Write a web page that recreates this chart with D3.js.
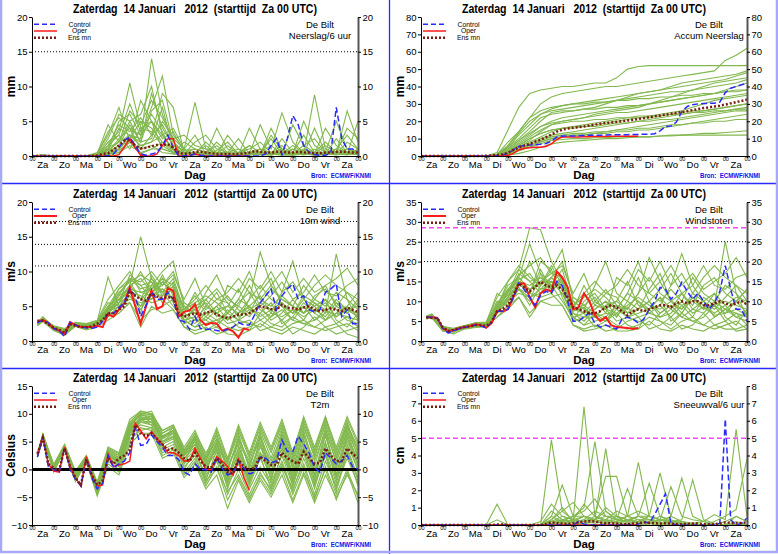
<!DOCTYPE html>
<html>
<head>
<meta charset="utf-8">
<script src="https://cdn.jsdelivr.net/npm/d3@7"></script>
<style>
  body { margin: 0; background: #fff; }
  svg { display: block; }
  text { font-family: "Liberation Sans", Arial, sans-serif; }
</style>
</head>
<body>
<svg id="chart" width="778" height="554"></svg>
<script>
// ---- algemene labels ----
const dayLabels = ["Za","Zo","Ma","Di","Wo","Do","Vr","Za","Zo","Ma","Di","Wo","Do","Vr","Za"]
const titleText = "Zaterdag  14 Januari   2012  (starttijd  Za 00 UTC)"

// ---- Neerslag / 6 uur (mm), 6-uurlijks vanaf 0h ----
const neerslagControl = [0,0,0,0,0,0,0,0,0,0,0,0,0, 0,0,0.3,1.2,2.3,2.7,1.5,0.3,0.1,0.3,0.5,1.5,3.0,1.2,0,0,0.1,0.3,0.1,0, 0,0,0,0,0,0,0,0,0,0, 0.3,1.5,2.5,0.2,2.5,5.8,4.5,1.5,0.5,0.2,0.1,0.1,0.5,7.0,2.5,1.0,1.0,0.5]
const neerslagOper = [0,0,0,0,0,0,0,0,0,0,0,0,0,0,0,0, 0.2,1.3,2.5,1.2,0.1,0,0,0.3,1.5,2.5,2.5,0,0,0,0.3,0.1, 0,0,0,0,0,0,0,0,0]
const neerslagMean = [0,0,0,0,0,0,0,0,0,0,0,0, 0.05,0.3,0.4,0.9,1.5,2.2,2.3,1.5,1.1,1.2,1.4,1.6,1.6,1.7,1.2,0.5,0.3,0.4,0.6,0.6,0.5,0.4,0.3,0.3,0.3,0.3,0.3,0.4,0.5,0.7,0.6,0.5,0.5,0.6,0.6,0.5,0.5,0.6,0.5,0.5,0.4,0.4,0.5,0.5,0.6,0.6,0.6,0.5,0.5]
// leden, 12-uurlijks vanaf 0h
const neerslagMembers = [
  [0,0,0,0,0,0,0.1,2.0,3.5,10.5,4.0,5.0,3.0,1.0,0.3,0.5,0.2,0.5,0.3,0.2,0.5,1.0,0.3,0.5,0.2,0.8,0.5,0.3,0.2,1.0,0.5],
  [0,0,0,0,0,0,0.3,4.5,2.0,3.0,2.5,14.0,6.0,2.0,0.5,1.0,0.5,0.3,0.1,0.5,0.3,0.2,0.5,1.5,0.3,0.2,0.5,0.3,0.2,0.5,0.3],
  [0,0,0,0,0,0,0,1.0,5.0,6.0,3.0,7.0,11.5,3.0,1.0,7.7,1.0,0.5,0.2,0.3,0.5,0.3,0.5,0.2,1.0,0.5,0.3,0.5,1.0,0.5,0.2],
  [0,0,0,0,0,0,0,0.5,2.5,4.0,1.0,3.0,9.0,7.0,0.5,0.3,0.3,4.0,1.0,0.5,1.5,0.5,0.3,0.5,0.2,0.3,8.8,1.0,0.5,0.3,0.5],
  [0,0,0,0,0,0,0.2,2.5,6.0,5.0,2.0,9.0,4.0,1.5,0.3,2.0,3.0,1.0,0.5,0.2,0.3,4.5,1.0,6.2,2.0,0.5,0.3,0.5,0.3,6.5,2.0],
  [0,0,0,0,0,0,0,0.3,1.0,2.5,5.0,4.0,2.0,0.5,2.0,1.0,0.5,0.2,3.0,1.0,0.3,0.2,4.0,1.0,0.3,5.0,1.5,0.5,5.0,1.0,0.3],
  [0,0,0,0,0,0,0.1,1.5,3.0,7.5,3.5,6.0,3.5,0.3,0.2,0.5,0.3,0.5,0.5,2.5,0.3,1.0,0.5,0.3,4.5,1.5,0.5,0.3,0.2,0.3,5.0],
  [0,0,0,0,0,0,0,0.8,4.0,3.0,1.5,2.0,5.0,2.5,3.0,1.5,1.0,0.3,0.1,0.2,4.0,1.0,0.2,0.3,0.5,0.2,0.3,4.0,1.5,0.5,0.2],
  [0,0,0,0,0,0,0,0,0.5,1.5,0.5,1.0,2.0,1.0,0.2,0.5,0.1,0.2,0.3,0.1,0.2,0.3,0.5,0.2,0.3,1.0,0.5,0.2,0.5,0.3,0.2],
  [0,0,0,0,0,0,0.5,3.0,7.0,2.0,8.0,5.0,1.0,0.5,0.3,0.2,0.1,0.3,0.2,0.5,0.3,0.2,0.1,0.5,0.3,0.2,0.5,2.0,0.5,0.2,1.0],
  [0,0,0,0,0,0,0,0.2,0.8,2.0,1.0,1.5,0.5,0.3,0.1,0.3,0.5,0.2,0.1,0.2,0.1,0.5,0.3,0.1,0.2,0.3,0.1,0.2,0.3,0.5,0.3],
  [0,0.2,0,0,0,0,0,1.2,2.0,5.0,6.0,10.0,3.0,4.0,1.0,0.3,0.2,0.3,1.5,0.3,0.2,0.3,2.5,0.3,0.5,3.0,0.5,0.3,1.0,3.0,1.0],
  [0,0,0,0,0,0,0.1,0.5,1.5,4.5,2.0,2.5,7.0,1.0,0.5,0.3,2.0,0.5,0.3,0.2,0.3,0.2,0.3,0.2,0.1,0.3,0.2,0.5,0.3,0.2,0.5],
  [0,0,0,0,0,0,0,2.0,3.0,1.0,4.0,3.5,1.5,0.5,0.2,0.2,0.3,2.0,0.5,0.3,0.5,0.3,0.2,2.5,0.5,0.3,4.0,0.5,0.3,0.5,0.3],
  [0,0,0,0,0,0,0.3,1.0,1.0,3.0,2.0,6.5,8.0,2.0,0.5,0.3,0.5,0.3,0.2,0.1,0.2,0.5,0.2,0.3,0.2,0.3,0.2,0.2,0.5,4.0,2.5],
  [0,0,0,0,0,0,0,0.3,0.5,2.0,0.3,1.0,1.0,0.5,0.5,0.2,0.3,0.2,0.1,0.3,0.2,0.3,0.5,0.3,0.2,0.5,0.3,0.2,0.3,0.2,0.3],
  [0,0,0,0,0,0,0.2,1.5,4.5,3.5,5.5,3.0,4.5,1.5,0.8,1.0,0.5,1.5,0.3,0.5,1.0,2.0,0.5,1.0,0.3,1.5,2.5,0.5,0.3,2.0,1.0],
  [0,0,0,0,0,0,0,0.8,2.0,6.5,4.5,8.0,5.5,2.5,1.0,3.0,0.3,0.8,2.0,0.3,0.5,0.3,3.0,0.8,0.5,0.3,1.0,0.3,2.5,0.5,0.8],
  [0,0,0,0,0,0,0.3,3.5,5.5,4.0,3.0,5.0,2.5,3.5,0.5,0.5,1.5,0.3,0.5,1.0,0.3,0.5,1.5,0.3,1.5,0.5,0.3,1.5,0.5,0.3,0.3],
  [0,0,0,0,0,0,0,0.5,1.0,3.0,1.5,2.0,3.0,0.8,0.3,0.2,0.3,0.5,0.2,0.3,1.5,0.5,0.2,0.5,1.0,0.3,0.5,0.2,0.3,1.0,0.5]
]
const neerslagDotted = [15]

// ---- Accum neerslag (mm) ----
const accumControl = [0,0,0,0,0,0,0,0,0,0,0,0,0,0, 0.3,0.8,1.5,3.5,5.5,6.0,6.3,6.5,6.8,7.2,8.5,11.0,11.5,11.5,11.5,11.6,11.8,12.0,12.0,12.0,12.1,12.2,12.3,12.3,12.3,12.4,12.4,12.5,12.5,12.8,14.5,17.0,17.2,19.5,25.5,28.5,29.5,30.0,30.2,30.3,30.4,31.0,36.5,39.0,40.0,41.0,42.0]
const accumOper = [0,0,0,0,0,0,0,0,0,0,0,0,0,0,0,0, 0.3,1.5,3.5,4.5,4.8,5.0,5.0,5.5,7.0,9.5,11.0,11.0,11.0,11.0,11.1,11.1,11.2,11.2,11.2,11.3,11.3,11.3,11.3,11.4,11.4]
const accumMean = [0,0,0,0,0,0,0,0,0,0,0,0, 0.1,0.3,0.6,1.0,1.8,3.5,5.0,6.0,7.0,8.2,9.3,10.8,12.3,14.0,15.2,15.8,16.2,16.6,17.0,17.6,18.0,18.5,19.0,19.3,19.6,20.0,20.4,20.8,21.3,21.8,22.3,22.8,23.3,23.8,24.3,24.8,25.3,25.8,26.4,27.0,27.6,28.0,28.5,29.0,29.6,30.3,31.0,31.7,32.5]
const accumMembers = [
  [0,0,0,0,0,0,0,2,15,28,36,38,39,40,40,41,42,42,45,50,51.5,52,52,52,52,52,52,52,52,52,52],
  [0,0,0,0,0,0,0,1,8,14,22,30,34,36,37,38,39,40,40,41,42,43,44,45,46,47,48,49,55,58,62],
  [0,0,0,0,0,0,0,0.5,5,12,18,24,27,29,30,31,32,33,34,35,36,37,38,40,42,43,44,45,46,47,49],
  [0,0,0,0,0,0,0,0.3,3,8,12,17,20,22,23,24,25,26,27,28,29,30,32,34,36,38,40,42,43,44,45],
  [0,0,0,0,0,0,0,1,4,9,14,20,25,26,26,27,27,28,28,29,29,30,31,32,33,34,35,36,37,38,38],
  [0,0,0,0,0,0,0,0,2,5,9,14,18,20,21,22,24,25,26,27,28,30,31,32,33,34,35,36,38,40,42],
  [0,0,0,0,0,0,0,0.5,3,6,10,13,15,16,16,17,17,18,19,19,20,21,22,23,24,25,26,27,28,29,30],
  [0,0,0,0,0,0,0,0.2,2,4,7,10,12,13,14,15,16,17,18,19,20,20,21,21,22,23,24,25,26,27,28],
  [0,0,0,0,0,0,0,0,1,3,5,8,10,11,12,12,13,13,14,14,15,15,16,17,18,19,20,21,22,23,24],
  [0,0,0,0,0,0,0,0.3,2,5,8,11,14,16,17,18,19,20,21,22,22,23,23,24,24,25,25,26,26,27,27],
  [0,0,0,0,0,0,0,0,0.5,1.5,3,5,7,8,8.5,9,9.5,10,10,10.5,11,11,11.5,12,12,12.5,13,13,13.5,14,14.5],
  [0,0,0,0,0,0,0,0.2,1,3,5,7,9,9.5,10,10,10.5,10.5,11,11,11,11,11.5,11.5,12,12,12,12,12,12,12],
  [0,0,0,0,0,0,0,1,6,13,20,24,26,27,28,29,30,31,32,33,34,35,36,37,37,38,39,40,41,42,44],
  [0,0,0,0,0,0,0,0.5,3,7,11,15,18,19,20,20,21,21,22,22,23,23,24,25,26,28,30,32,33,34,35],
  [0,0,0,0,0,0,0,0.2,1.5,4,6,9,11,12,13,13,14,14,15,15,16,16,17,18,18,19,19,20,20,21,21],
  [0,0,0,0,0,0,0,0.8,5,10,16,22,24,25,26,27,28,30,32,34,36,37,38,39,40,41,42,43,44,46,48],
  [0,0,0,0,0,0,0,0.5,4,9,13,17,19,20,21,22,23,24,25,25,26,27,28,29,30,31,32,33,34,35,36],
  [0,0,0,0,0,0,0,0.3,2.5,6,10,13,15,16,17,17,18,19,20,21,22,22,23,24,25,26,26,27,28,29,30],
  [0,0,0,0,0,0,0,0.8,6,14,22,26,28,29,30,30,31,31,32,32,33,33,34,34,35,35,36,36,37,37,38],
  [0,0,0,0,0,0,0,0.2,1.5,3.5,6,8,10,11,12,12,13,14,15,16,17,18,19,20,21,22,23,24,25,26,26]
]

// ---- 10m wind (m/s), 6-uurlijks vanaf 6h ----
const windControl = [2.6,3.0,2.6,1.8,1.5,0.6,2.7,2.3,2.0,1.9,1.8,2.0,2.8,4.0,4.0,4.8,5.5,7.5,6.5,3.5,5.2,7.0,6.0,6.0,7.0,6.0,3.0,2.8,1.7,3.5,1.8,1.7,1.7,1.5,1.4,1.7,2.0,2.7,2.3,2.3,3.8,5.5,6.5,7.5,4.5,6.5,7.5,8.2,6.0,6.5,4.5,4.2,4.5,7.0,7.5,8.2,3.5,4.5,2.5,2.5]
const windOper = [2.8,3.0,2.6,1.8,1.5,1.0,2.7,2.3,2.0,2.0,2.0,2.2,2.0,3.8,3.5,4.5,5.5,7.7,5.0,2.5,5.0,7.3,4.6,5.0,7.6,7.2,3.5,4.2,4.4,5.3,3.0,2.3,2.6,2.5,1.5,1.8,1.4,0.5,1.8,1.6]
const windMean = [2.9,2.9,2.4,1.9,1.6,1.2,2.4,2.2,2.0,2.0,2.1,2.5,3.0,4.0,4.0,4.5,5.0,7.2,6.5,6.0,5.8,6.8,6.4,6.2,6.3,6.2,4.0,3.5,3.8,4.0,3.8,4.0,4.3,3.8,3.5,3.3,3.5,3.8,3.8,4.0,4.5,5.0,4.8,4.6,4.5,5.2,4.8,4.7,4.5,4.8,5.0,4.5,4.3,4.5,4.7,4.5,4.3,4.8,4.5,4.2]
// leden: 6h, daarna 12-uurlijks
const windMembers = [
  [2.4,3.2,1.8,1.2,2.4,2.0,2.5,4.5,6.0,8.0,15.0,9.0,7.0,6.0,4.0,3.0,5.0,7.0,4.0,3.0,6.0,12.8,8.0,6.0,5.0,4.0,6.0,8.0,5.0,4.0,6.0],
  [2.6,3.5,2.0,1.5,2.6,2.3,2.8,9.2,5.0,7.0,5.0,8.0,10.0,11.5,5.0,4.0,3.0,2.0,4.0,6.0,5.0,3.0,4.0,7.0,11.5,6.0,4.0,3.0,5.0,7.0,5.0],
  [2.3,3.0,1.6,1.0,2.2,1.8,2.2,4.0,5.5,9.5,8.0,6.0,8.5,7.0,2.5,5.0,6.0,4.0,2.5,3.0,4.0,7.0,9.0,5.0,3.0,5.0,3.0,4.0,12.5,6.0,3.0],
  [2.5,3.1,1.9,1.4,2.3,2.1,2.4,3.5,4.5,6.5,4.0,9.5,7.0,5.0,3.0,2.0,2.5,3.0,2.0,1.5,2.0,3.0,2.0,1.5,2.5,3.0,2.0,1.5,2.0,2.5,1.5],
  [2.4,2.9,1.7,1.3,2.5,1.9,2.6,5.0,7.5,8.5,6.0,7.5,9.0,8.0,4.5,6.0,8.0,6.0,7.0,9.0,7.0,6.0,8.0,10.0,7.0,9.0,7.0,8.0,9.0,10.5,8.0],
  [2.6,3.3,2.1,1.7,2.4,2.2,2.7,4.2,5.0,7.0,6.5,5.5,6.0,4.5,2.0,1.5,2.0,1.0,1.5,2.5,3.0,1.5,2.0,3.0,1.0,2.0,3.5,2.0,1.0,1.5,2.0],
  [2.3,3.0,1.8,1.1,2.2,2.0,2.3,3.8,6.5,9.0,8.5,10.0,8.0,9.5,6.0,9.0,5.0,4.0,5.0,4.0,6.0,8.0,6.0,5.0,4.0,6.0,5.0,3.0,4.0,5.0,7.0],
  [2.5,3.1,1.7,1.5,2.6,2.4,2.9,5.5,5.0,5.5,3.0,4.5,5.0,6.0,3.5,2.5,4.0,5.0,3.0,5.0,8.0,5.0,3.0,4.0,6.0,4.0,5.0,6.0,3.0,2.0,4.0],
  [2.4,3.0,2.0,1.2,2.3,1.9,2.5,4.5,7.0,8.5,9.5,8.5,5.5,8.0,3.0,3.5,1.5,2.5,3.5,2.0,1.5,4.0,5.5,2.5,3.5,5.5,4.0,6.0,4.5,3.0,2.5],
  [2.7,3.4,1.9,1.6,2.7,2.5,3.0,6.0,8.0,10.0,7.0,6.5,9.5,6.5,5.0,4.0,7.0,9.5,6.0,5.0,4.0,5.0,6.5,8.5,6.0,7.0,9.5,7.0,6.5,8.0,9.0],
  [2.2,2.8,1.5,0.8,2.1,1.6,2.0,3.0,4.0,5.5,2.0,5.0,4.0,4.5,2.0,1.0,1.5,2.0,1.0,0.8,1.5,2.5,1.5,1.0,2.0,1.5,1.0,2.0,2.5,1.0,0.5],
  [2.5,3.2,2.2,1.8,2.5,2.3,2.6,4.8,6.5,7.5,10.0,7.0,8.0,10.0,5.5,4.5,5.5,3.5,8.0,7.0,10.0,6.0,5.0,6.5,5.0,8.0,6.0,5.0,7.0,6.0,4.5],
  [2.4,3.1,1.8,1.3,2.4,2.1,2.4,4.2,5.5,8.0,6.0,9.0,6.5,7.5,4.0,7.0,4.5,6.0,5.5,3.5,5.0,3.5,4.5,3.0,4.5,3.0,5.5,4.5,3.5,5.0,3.5],
  [2.6,3.0,1.6,1.0,2.5,2.0,2.8,5.0,6.0,7.0,4.5,7.0,9.0,5.5,2.5,3.0,3.0,4.5,5.0,7.5,4.5,4.0,2.5,2.0,3.5,2.5,2.0,3.0,4.0,3.5,2.0],
  [2.3,2.9,1.9,1.4,2.3,1.8,2.3,3.6,5.0,6.0,5.5,6.0,7.5,6.0,3.0,2.0,3.5,2.5,4.5,3.0,2.5,2.0,3.5,4.5,3.0,2.5,3.0,4.5,2.5,3.5,3.0],
  [2.5,3.3,2.0,1.6,2.6,2.2,2.6,4.4,7.5,9.0,7.5,8.0,7.0,9.0,4.5,5.5,6.5,5.5,4.0,6.0,9.0,7.5,10.0,7.0,8.5,6.0,8.0,9.5,8.0,7.0,6.0],
  [2.5,3.1,1.8,1.4,2.4,2.1,2.5,4.0,5.5,7.5,7.0,7.5,8.5,7.0,3.5,4.5,3.5,5.0,6.5,4.5,3.5,5.5,4.5,5.5,4.0,5.0,4.5,3.5,5.5,4.5,3.5],
  [2.4,3.0,1.7,1.1,2.3,2.0,2.4,4.3,6.0,8.0,9.0,7.0,6.5,8.5,4.5,6.5,4.0,3.0,4.0,5.5,7.0,4.5,3.5,5.5,4.0,6.5,5.5,4.0,6.0,4.5,5.0],
  [2.6,3.2,2.0,1.5,2.5,2.2,2.6,4.6,5.5,6.5,5.0,6.5,7.5,6.0,4.0,3.0,5.0,4.0,3.0,4.0,5.0,6.5,4.0,3.5,4.5,3.5,4.5,5.5,3.5,4.5,4.0],
  [2.4,2.9,1.9,1.3,2.4,2.0,2.5,4.8,6.8,8.8,8.0,8.5,7.0,7.8,5.0,3.5,6.0,7.5,5.5,3.5,4.5,5.5,7.5,6.0,5.0,4.0,6.5,7.5,5.5,4.0,5.5]
]
const windDotted = [10.8, 13.9, 17.2]

// ---- Windstoten (m/s) ----
const gustControl = [6.0,6.0,5.8,3.2,2.0,2.6,3.0,3.5,3.5,4.0,3.8,3.3,4.8,7.5,7.5,8.0,11.0,14.5,13.0,11.0,9.0,11.5,12.5,12.0,15.0,14.0,10.0,5.0,5.0,6.0,7.0,4.5,3.5,4.0,3.5,3.0,5.5,6.0,5.5,4.5,5.5,8.0,10.0,13.5,13.0,10.5,12.0,14.8,12.5,10.5,12.0,10.0,8.0,9.5,12.5,19.0,13.0,8.0,8.0,5.0]
const gustOper = [6.0,6.0,5.8,3.2,2.5,2.7,3.2,3.5,3.8,4.2,4.0,3.3,4.5,7.5,7.5,8.0,11.0,14.5,14.5,11.0,8.5,12.0,13.0,12.5,17.5,16.0,13.5,8.0,8.5,12.0,10.0,6.5,5.0,6.0,4.0,3.5,3.4,3.3,3.0,3.3]
const gustMean = [6.0,5.8,5.8,3.5,2.5,2.8,3.2,3.5,3.7,4.0,4.0,3.8,4.8,7.5,8.0,9.0,11.5,14.5,13.5,12.5,13.5,15.0,14.0,13.5,14.0,13.0,11.0,8.5,8.0,7.5,7.0,7.0,7.5,8.5,9.0,8.5,7.5,6.5,7.5,8.0,7.5,8.0,8.5,9.0,9.0,8.5,9.5,10.0,9.5,10.0,10.0,9.0,9.0,9.5,10.0,9.5,9.0,9.5,10.0,9.2]
const gustMembers = [
  [6.0,6.5,3.0,2.5,3.5,4.0,4.0,8.0,12.0,18.0,28.5,28.0,20.0,15.0,8.0,7.0,10.0,13.0,9.0,8.0,12.0,21.0,15.0,10.0,12.0,9.0,14.0,16.0,12.0,10.0,13.0],
  [5.8,6.0,2.5,3.0,3.8,4.5,4.5,12.0,10.0,15.0,12.0,20.0,18.0,23.0,10.0,8.0,6.0,5.0,8.0,12.0,10.0,8.0,9.0,14.0,22.0,14.0,10.0,8.0,11.0,14.0,10.0],
  [6.2,6.3,3.5,2.8,3.2,3.5,3.8,7.0,11.0,17.0,15.0,12.0,16.0,13.0,5.0,10.0,12.0,8.0,5.0,6.0,8.0,13.0,17.0,10.0,7.0,11.0,8.0,9.0,25.0,12.0,6.0],
  [5.5,6.2,2.8,2.2,3.6,4.2,4.0,6.0,9.0,13.0,10.0,17.0,14.0,10.0,6.0,4.0,5.0,6.0,4.0,3.0,4.0,6.0,5.0,3.0,5.0,6.0,4.0,3.0,4.0,5.0,3.0],
  [6.0,6.4,3.2,2.6,3.4,3.8,4.2,9.0,14.0,16.0,13.0,15.0,17.0,16.0,9.0,12.0,15.0,12.0,14.0,18.0,14.0,12.0,15.0,19.0,14.0,17.0,13.0,15.0,17.0,21.0,16.0],
  [5.7,6.1,3.4,3.0,3.5,4.0,4.5,8.0,10.0,13.0,12.0,11.0,12.0,9.0,4.0,3.0,4.0,2.5,3.0,5.0,6.0,3.0,4.0,6.0,3.0,4.0,7.0,4.0,3.0,3.0,4.0],
  [6.1,6.6,3.1,2.4,3.3,3.9,3.9,7.5,13.0,16.5,19.0,21.0,17.0,19.0,12.0,17.0,10.0,8.0,10.0,8.0,12.0,16.0,12.0,10.0,8.0,12.0,10.0,6.0,8.0,10.0,13.0],
  [5.9,6.0,2.9,2.7,3.7,4.3,4.4,10.0,9.0,11.0,7.0,10.0,11.0,12.0,7.0,5.0,8.0,10.0,6.0,10.0,16.0,10.0,6.0,8.0,12.0,8.0,10.0,12.0,6.0,4.0,8.0],
  [6.0,6.3,3.3,2.5,3.4,3.7,4.0,8.5,12.5,16.0,24.5,17.0,12.0,16.0,6.0,7.0,3.5,5.0,7.0,4.0,3.0,8.0,11.0,5.0,7.0,11.0,8.0,12.0,9.0,6.0,5.0],
  [6.3,6.8,3.6,3.2,3.9,4.6,4.8,11.0,15.0,19.0,16.0,14.0,19.0,14.0,10.0,8.0,14.0,20.0,12.0,10.0,8.0,10.0,13.0,17.0,12.0,14.0,19.0,14.0,13.0,16.0,17.0],
  [5.6,5.8,2.6,1.8,3.0,3.4,3.6,6.0,8.0,11.0,6.0,10.0,9.0,9.0,4.0,2.5,3.0,4.0,2.5,2.5,3.0,5.0,3.0,2.5,4.0,3.0,2.5,4.0,5.0,2.5,3.0],
  [6.1,6.5,3.7,3.1,3.8,4.4,4.3,9.5,13.0,14.0,20.0,14.0,16.0,20.0,11.0,9.0,11.0,7.0,16.0,14.0,20.0,12.0,10.0,13.0,10.0,16.0,12.0,10.0,14.0,12.0,9.0],
  [5.9,6.2,3.0,2.6,3.5,4.1,4.1,8.0,11.0,15.0,12.0,18.0,13.0,15.0,8.0,14.0,9.0,12.0,11.0,7.0,10.0,7.0,9.0,6.0,9.0,6.0,11.0,9.0,7.0,10.0,7.0],
  [6.0,6.4,2.7,2.3,3.6,3.9,4.6,9.0,11.5,13.5,9.0,14.0,18.0,11.0,5.0,6.0,6.0,9.0,10.0,15.0,9.0,8.0,5.0,4.0,7.0,5.0,4.0,6.0,8.0,7.0,4.0],
  [5.8,6.1,3.1,2.7,3.4,3.6,3.8,7.0,10.0,12.0,11.0,12.0,15.0,12.0,6.0,4.0,7.0,5.0,9.0,6.0,5.0,4.0,7.0,9.0,6.0,5.0,6.0,9.0,5.0,7.0,6.0],
  [6.2,6.7,3.4,2.9,3.7,4.5,4.7,8.5,15.0,18.0,15.0,16.0,14.0,18.0,9.0,11.0,13.0,11.0,8.0,12.0,18.0,15.0,20.0,14.0,17.0,12.0,16.0,19.0,16.0,14.0,12.0],
  [6.0,6.3,3.0,2.6,3.5,4.0,4.2,8.0,11.0,14.0,13.0,14.5,15.0,14.0,7.0,6.0,9.0,8.0,7.0,9.0,11.0,9.0,8.0,10.0,9.0,10.0,8.0,9.0,10.0,9.0,8.0],
  [5.9,6.2,3.2,2.5,3.4,3.9,4.1,8.5,12.0,15.5,17.0,13.0,14.0,16.0,8.0,9.0,7.0,6.0,9.0,7.0,8.0,10.0,7.0,9.0,8.0,11.0,9.0,7.0,9.0,11.0,10.0],
  [6.1,6.4,3.3,2.8,3.6,4.1,4.3,9.0,13.0,15.0,14.0,16.0,13.0,15.0,9.0,7.0,8.0,10.0,8.0,6.0,7.0,8.0,11.0,8.0,6.0,8.0,7.0,10.0,8.0,6.0,7.0],
  [5.8,6.1,2.9,2.4,3.3,3.8,3.9,7.5,10.5,13.0,11.0,13.0,16.0,13.5,7.5,8.5,6.0,7.0,6.5,8.5,6.0,7.0,6.0,7.0,10.0,7.0,8.5,6.5,7.0,8.0,6.5]
]
const gustDotted = [20, 25]
const gustAlarm = [28.5]

// ---- T2m (Celsius) ----
const t2mControl = [2.2,5.8,0.5,0,-0.5,4.0,0,-1.8,-3.0,2.0,-1.5,-3.5,-2.5,2.5,0.3,1.0,1.5,3.0,7.5,4.3,4.5,6.2,5.0,4.0,2.5,2.5,1.8,-0.5,-1.0,1.0,0,0,-0.5,2.2,0.2,-1.0,-0.5,1.5,0.2,-0.8,-0.5,2.2,2.0,1.2,1.5,5.3,3.2,3.2,6.0,4.5,3.0,0.3,-0.5,3.0,2.0,1.0,1.5,2.5,0.5,0]
const t2mOper = [2.5,6.0,1.0,-0.3,-0.5,4.0,0.5,-1.5,-3.0,2.3,-1.0,-3.0,-2.8,2.8,0.5,0.8,1.0,1.5,8.3,7.0,5.5,6.8,5.5,4.5,3.0,3.0,2.5,1.5,1.5,3.8,2.0,0,0,2.3,1.5,0.5,-1.0,1.8,-1.5,-3.8]
const t2mMean = [2.8,5.7,1.0,0.2,-0.2,3.8,0.5,-1.5,-2.8,1.8,-1.0,-2.8,-2.0,2.0,1.0,2.0,2.5,3.5,8.0,6.5,6.0,6.5,5.5,4.5,3.5,3.8,3.0,2.0,1.5,3.0,1.5,0.5,0.3,2.0,1.0,-0.5,-0.8,1.8,0.5,0,0.3,2.3,1.5,0.8,0.8,3.0,2.0,1.5,1.0,3.2,2.0,1.0,1.2,3.8,2.5,1.5,1.5,3.8,2.8,2.0]
const t2mMembers = [
  [2.5,5.8,0.2,4.0,-1.5,2.0,-3.5,2.5,1.0,6.5,9.5,9.0,5.0,6.0,2.0,4.0,0.5,3.0,-1.0,2.5,-2.0,3.0,-1.5,4.0,-2.0,5.0,-1.0,6.0,0.0,7.0,1.0],
  [2.8,6.3,0.8,4.3,-0.5,2.3,-2.5,3.5,2.5,8.5,10.5,10.0,7.0,8.0,4.0,7.0,2.5,7.5,2.0,8.0,3.0,8.5,4.0,9.0,3.0,9.5,4.0,9.5,4.0,9.5,5.0],
  [2.3,5.5,-0.3,3.5,-2.0,1.5,-4.5,1.0,-0.5,5.0,7.5,7.0,3.0,4.0,-0.5,2.0,-2.0,0.0,-4.0,-1.0,-5.0,-1.5,-4.5,0.0,-5.5,-0.5,-5.0,0.0,-5.5,-0.5,-6.0],
  [2.6,6.0,0.5,4.2,-1.0,2.2,-3.0,3.0,1.5,7.0,8.5,8.5,6.0,7.0,3.0,5.5,1.0,5.0,0.0,5.5,1.5,6.5,0.5,7.0,1.0,7.5,2.5,8.0,2.0,8.5,3.0],
  [2.4,5.6,0.0,3.8,-1.8,1.8,-3.8,2.0,0.5,6.0,9.0,8.0,4.0,5.0,1.0,3.0,-1.0,2.0,-3.0,1.0,-3.5,0.5,-3.0,1.5,-4.0,2.0,-3.0,2.5,-4.0,3.0,-3.0],
  [2.7,6.2,0.6,4.4,-0.8,2.4,-2.8,3.8,2.8,8.0,10.0,10.5,6.5,7.5,3.5,6.5,3.0,6.0,1.5,7.0,2.0,7.5,3.0,8.0,2.0,8.5,3.0,9.0,3.5,8.0,4.0],
  [2.5,5.9,0.3,3.9,-1.3,2.1,-3.3,2.8,1.2,7.5,9.0,9.5,5.5,6.5,2.5,5.0,0.0,4.0,-2.0,3.0,-1.0,4.5,-2.0,5.0,-1.5,5.5,-2.0,6.5,-1.5,6.0,-0.5],
  [2.2,5.4,-0.5,3.4,-2.2,1.3,-4.8,0.5,-1.0,4.5,6.5,6.5,2.0,3.0,-1.5,1.0,-3.5,-1.0,-7.0,-2.0,-6.0,-2.0,-5.0,-1.0,-6.0,-1.0,-6.0,-1.0,-5.0,-1.0,-4.5],
  [2.6,6.1,0.4,4.1,-1.1,2.0,-3.2,3.2,2.0,7.0,9.5,8.5,5.5,7.5,2.5,6.0,1.5,6.5,-0.5,6.0,0.5,6.0,-0.5,6.5,0.0,7.0,0.5,7.5,1.0,8.0,2.0],
  [2.4,5.7,0.1,3.7,-1.6,1.7,-3.6,1.8,0.8,6.5,8.0,7.5,3.5,4.5,0.5,2.5,-2.5,1.5,-4.5,0.0,-4.5,-0.5,-4.0,0.5,-3.5,1.0,-4.5,1.5,-3.0,2.0,-2.5],
  [2.9,6.4,0.9,4.5,-0.3,2.5,-2.2,4.0,3.0,9.0,10.5,10.0,7.0,8.0,3.5,6.5,2.0,7.0,1.5,7.5,2.5,8.0,3.5,8.5,2.5,9.0,3.5,9.5,3.0,9.0,4.5],
  [2.3,5.5,-0.2,3.6,-1.9,1.6,-4.2,1.5,0.0,5.5,7.0,7.5,2.5,3.5,-1.0,1.5,-3.0,0.5,-5.5,-1.5,-5.5,-1.0,-3.5,1.0,-4.5,0.5,-5.5,0.5,-4.5,0.0,-5.0],
  [2.5,5.9,0.4,4.0,-1.2,2.1,-3.4,2.6,1.5,7.0,9.0,9.0,5.0,6.5,2.0,4.5,0.5,4.5,-1.5,4.0,-0.5,5.0,-1.0,5.5,-2.5,4.0,-1.5,5.0,-2.0,4.5,0.0],
  [2.7,6.0,0.6,4.3,-0.9,2.3,-2.9,3.3,2.2,8.0,9.8,9.8,6.0,7.0,3.0,5.0,1.5,5.5,0.5,5.0,1.0,5.5,1.5,6.0,0.5,6.0,1.5,7.0,1.5,7.0,2.5],
  [2.4,5.6,0.0,3.8,-1.7,1.9,-3.9,2.2,0.6,6.0,8.5,8.0,4.5,5.5,1.5,3.5,-1.5,2.5,-2.5,2.0,-3.0,2.0,-2.5,2.5,-3.0,3.0,-3.5,3.5,-2.5,4.0,-1.5],
  [2.6,6.1,0.5,4.1,-1.0,2.2,-3.1,3.0,1.8,7.5,10.0,9.0,6.0,6.5,2.5,4.5,1.0,3.5,-1.0,3.5,-1.5,3.0,0.5,3.5,-0.5,4.0,0.0,4.5,0.5,5.0,1.0],
  [2.5,5.8,0.3,3.9,-1.4,2.0,-3.6,2.4,1.3,7.2,9.2,9.2,5.8,6.8,1.0,5.5,-0.5,5.0,-2.5,5.5,-2.5,6.0,-2.0,6.0,-1.0,6.5,-1.0,7.0,-1.0,6.5,0.5],
  [2.6,6.0,0.4,4.2,-1.1,2.2,-3.0,2.9,1.7,7.8,9.7,9.5,5.8,7.0,2.8,5.8,-0.5,4.5,0.5,4.5,-2.0,4.0,1.0,4.5,-3.0,3.5,-2.5,4.0,-1.0,5.5,2.0],
  [2.4,5.7,0.2,3.7,-1.5,1.8,-3.7,2.0,0.8,6.8,8.8,8.5,4.8,5.8,0.0,3.5,-2.0,3.5,-3.5,2.5,-2.5,2.5,-3.5,3.0,-2.0,3.5,-2.5,3.0,-3.5,3.5,-2.0],
  [2.7,6.1,0.7,4.3,-0.7,2.4,-2.6,3.6,2.5,8.2,10.2,9.8,6.5,7.8,3.2,6.0,2.0,5.5,1.0,6.5,0.0,7.0,2.0,7.5,1.5,8.0,2.0,8.5,2.5,7.5,3.5]
]

// ---- Sneeuwval / 6 uur (cm), 6-uurlijks vanaf 0h ----
const snowControl = [0,0,0,0,0,0,0,0,0,0,0,0,0,0,0,0,0,0,0,0,0,0,0,0,0,0,0,0,0, 0.2,0.05, 0,0,0,0,0,0,0,0,0, 0.05,0.2,0.1,0.6,1.2,1.8,0.1, 0,0,0,0,0,0,0,0, 0.1,6.1,0.3,0,0.1,0.4]
const snowOper = [0,0,0,0,0,0,0,0,0,0,0,0,0,0,0,0,0,0,0,0,0,0,0,0,0,0,0,0,0,0,0,0,0,0,0,0,0,0,0,0,0]
const snowMean = [0,0,0,0,0,0,0,0,0,0,0,0,0,0, 0.03,0.03, 0,0,0,0,0,0,0, 0.05,0.15,0.1,0.08,0.05,0.1,0.15,0.2,0.22,0.2,0.15,0.1,0.1,0.08,0.05,0.05,0.08,0.1,0.15,0.12,0.1,0.08,0.1,0.08,0.05,0.05,0.06,0.08,0.08,0.05,0.05,0.05,0.08,0.15,0.12,0.1,0.12,0.15]
const snowMembers = [
  [0,0,0,0,0,0,0,0,0,0,0,0,4.9,0.8,0.3,0.5,0.2,0.3,0.1,0.0,0.2,0.1,0,0,0,0,0,0,0,0,0],
  [0,0,0,0,0,0,0,0,0,0,0,0.2,1.2,0.5,0.3,6.8,0.5,0.2,0.1,0.3,0.1,0,0,0,0,0,0,0,0,0.2,0],
  [0,0,0,0,0,0,0,0,0,0,0,0,0.5,2.3,0.5,1.0,4.8,0.8,0.3,0.2,0.5,0.3,0.1,0,0,0,0,0,0,0,0],
  [0,0,0,0,0,0,0,1.2,0,0,0,0,0.3,0.8,1.3,0.5,0.3,4.4,0.5,0.3,0.2,0.1,0.3,0.2,0,0,0,0,0,0,0],
  [0,0,0,0,0,0,0,0,0,0,0,0,0.2,0.5,0.3,1.2,0.5,2.8,2.8,0.5,0.3,0.2,0.5,0.3,0.1,0,0,0,0,0,0],
  [0,0,0,0,0,0,0,0.3,0,0,0,0,0.8,0.3,0.5,0.8,1.5,0.5,0.3,2.1,0.5,0.3,0.1,0.2,0,0,0,0,0,0,0],
  [0,0,0,0,0,0,0,0,0,0,0,0,0.3,1.0,0.2,0.3,0.8,0.5,0.3,0.5,3.6,0.5,0.3,0.1,0.2,0,0,0,0,0,0],
  [0,0,0,0,0,0,0,0,0,0,0,0,0.5,0.2,0.5,0.5,0.3,0.8,0.3,0.2,0.5,2.4,0.5,0.2,0.1,0,0,0,0,0.5,0.2],
  [0,0,0,0,0,0,0,0,0,0,0,0,0.2,0.3,0.2,0.5,0.2,0.3,0.2,0.5,0.8,0.5,3.0,0.5,0.2,0.1,0,0,0,0,0],
  [0,0,0,0,0,0,0,0,0,0,0,0,0,0.3,0.1,0.2,0.3,0.5,0.5,0.3,0.5,0.5,0.3,2.2,0.5,0.3,0.2,0,0,0,0],
  [0,0,0,0,0,0,0,0,0,0,0,0,0.2,0.1,0.3,0.2,0.5,0.3,0.8,0.5,0.3,0.3,0.2,0.5,2.7,0.5,0.2,0,0,0,0],
  [0,0,0,0,0,0,0,0,0,0,0,0,0.1,0.2,0.1,0.3,0.2,0.3,0.2,0.3,0.2,0.5,0.3,0.2,0.3,2.6,0.3,0.1,0,0,0],
  [0,0,0,0,0,0,0,0,0,0,0,0,0,0.1,0,0.2,0.1,0.2,0.1,0.2,0.1,0.2,0.1,0.1,0,0.1,0.2,0.6,0.3,5.5,0.5],
  [0,0,0,0,0,0,0,0,0,0,0,0,0,0,0,0.1,0,0.1,0,0.1,0,0.1,0,0,0,0,0,0.2,0.5,0.9,3.8],
  [0,0,0,0,0,0,0,0,0,0,0,0,0,0.2,0,0.1,0.2,0.1,0.5,0.1,0.2,0.1,0.3,0.1,0.2,0,0,0,0.2,0.5,0.2],
  [0,0,0,0,0,0,0,0,0,0,0,0,0.1,0.3,0.2,0.5,0.3,1.0,0.5,0.3,0.2,0.5,0.3,0.2,0.1,0.1,0,0,0,0,0]
]
const snowAlarm = [5]

// ---- panelen ----
const panels = [
  { col: 0, row: 0, label: "Neerslag/6 uur", unit: "mm", yMin: 0, yMax: 20, yStep: 5, start: 0,
    members: neerslagMembers, control: neerslagControl, oper: neerslagOper, mean: neerslagMean,
    dotted: neerslagDotted, alarm: [], zero: false, operWidth: 1.5 },
  { col: 1, row: 0, label: "Accum Neerslag", unit: "mm", yMin: 0, yMax: 80, yStep: 10, start: 0,
    members: accumMembers, control: accumControl, oper: accumOper, mean: accumMean,
    dotted: [], alarm: [], zero: false, operWidth: 1.5 },
  { col: 0, row: 1, label: "10m wind", unit: "m/s", yMin: 0, yMax: 20, yStep: 5, start: 6,
    members: windMembers, control: windControl, oper: windOper, mean: windMean,
    dotted: windDotted, alarm: [], zero: false, operWidth: 2 },
  { col: 1, row: 1, label: "Windstoten", unit: "m/s", yMin: 0, yMax: 35, yStep: 5, start: 6,
    members: gustMembers, control: gustControl, oper: gustOper, mean: gustMean,
    dotted: gustDotted, alarm: gustAlarm, zero: false, operWidth: 2 },
  { col: 0, row: 2, label: "T2m", unit: "Celsius", yMin: -10, yMax: 15, yStep: 5, start: 6,
    members: t2mMembers, control: t2mControl, oper: t2mOper, mean: t2mMean,
    dotted: [], alarm: [], zero: true, operWidth: 1.5 },
  { col: 1, row: 2, label: "Sneeuwval/6 uur", unit: "cm", yMin: 0, yMax: 8, yStep: 1, start: 0,
    members: snowMembers, control: snowControl, oper: snowOper, mean: snowMean,
    dotted: [], alarm: snowAlarm, zero: false, operWidth: 1.5 }
]

const svg = d3.select("#chart")
const PW = 389
const rowTop = [0, 185, 369]
const memberColor = "#82b84e"
const controlColor = "#2a2aff"
const operColor = "#ff1a1a"
const meanColor = "#7b1c12"

const x = d3.scaleLinear().domain([0, 360]).range([32, 358])

panels.forEach((p, pi) => {
  const g = svg.append("g").attr("transform", `translate(${p.col * PW},${rowTop[p.row]})`)
  const y = d3.scaleLinear().domain([p.yMin, p.yMax]).range([156, 17])
  const ticks = d3.range(p.yMin, p.yMax + 0.001, p.yStep)

  const clipId = "clip" + pi
  g.append("clipPath").attr("id", clipId)
    .append("rect").attr("x", 32).attr("y", 14).attr("width", 326).attr("height", 144)
  const plot = g.append("g").attr("clip-path", `url(#${clipId})`)

  // tijdas: leden 12-uurlijks, detail 6-uurlijks
  const mh = p.start === 0 ? d3.range(0, 361, 12) : [6].concat(d3.range(12, 361, 12))
  const dh = d3.range(p.start, 361, 6)
  const memberLine = d3.line().x((d, i) => x(mh[i])).y(d => y(d))
  const detailLine = d3.line().x((d, i) => x(dh[i])).y(d => y(d))

  // ensemble leden
  plot.selectAll("path.member")
    .data(p.members)
    .enter()
    .append("path")
    .attr("class", "member")
    .attr("d", memberLine)
    .attr("fill", "none")
    .attr("stroke", memberColor)
    .attr("stroke-width", 1.1)

  // referentielijnen
  plot.selectAll("line.dot")
    .data(p.dotted)
    .enter()
    .append("line")
    .attr("x1", 32).attr("x2", 358)
    .attr("y1", d => y(d)).attr("y2", d => y(d))
    .attr("stroke", "#000")
    .attr("stroke-width", 1)
    .attr("stroke-dasharray", "1,2")

  plot.selectAll("line.alarm")
    .data(p.alarm)
    .enter()
    .append("line")
    .attr("x1", 32).attr("x2", 358)
    .attr("y1", d => y(d)).attr("y2", d => y(d))
    .attr("stroke", "#ff44ff")
    .attr("stroke-width", 1.5)
    .attr("stroke-dasharray", "5,3")

  if (p.zero) {
    plot.append("line")
      .attr("x1", 32).attr("x2", 358)
      .attr("y1", y(0)).attr("y2", y(0))
      .attr("stroke", "#000")
      .attr("stroke-width", 3)
  }

  // oper, control, ens mean
  plot.append("path")
    .attr("d", detailLine(p.oper))
    .attr("fill", "none")
    .attr("stroke", operColor)
    .attr("stroke-width", p.operWidth)

  plot.append("path")
    .attr("d", detailLine(p.control))
    .attr("fill", "none")
    .attr("stroke", controlColor)
    .attr("stroke-width", 1.5)
    .attr("stroke-dasharray", "6,3")

  plot.append("path")
    .attr("d", detailLine(p.mean))
    .attr("fill", "none")
    .attr("stroke", meanColor)
    .attr("stroke-width", 2.5)
    .attr("stroke-dasharray", "2,2")

  // assen
  const left = g.append("g")
    .attr("transform", "translate(32,0)")
    .call(d3.axisLeft(y).tickValues(ticks).tickSize(3).tickSizeOuter(0).tickPadding(1.5))
  left.attr("font-family", "Liberation Sans, Arial, sans-serif").attr("font-size", 9.5)
  left.select(".domain").attr("stroke", "#000")

  const right = g.append("g")
    .attr("transform", "translate(358,0)")
    .call(d3.axisRight(y).tickValues(ticks).tickSize(3).tickSizeOuter(0).tickPadding(1.5))
  right.attr("font-family", "Liberation Sans, Arial, sans-serif").attr("font-size", 9.5)
  right.select(".domain").attr("stroke", "#555").attr("stroke-width", 2)

  const bottom = g.append("g")
    .attr("transform", "translate(0,156)")
    .call(d3.axisBottom(x).tickValues(d3.range(0, 361, 24)).tickSize(2).tickSizeOuter(0).tickFormat(() => "00"))
  bottom.attr("font-family", "Liberation Sans, Arial, sans-serif").attr("font-size", 5.5)
  bottom.selectAll("text").attr("y", 0.8)
  bottom.select(".domain").attr("stroke", "#000")

  g.selectAll("text.day")
    .data(dayLabels)
    .enter()
    .append("text")
    .attr("class", "day")
    .attr("x", (d, i) => x(i * 24 + 12))
    .attr("y", 167.5)
    .attr("text-anchor", "middle")
    .attr("font-size", 9.5)
    .text(d => d)

  // teksten
  g.append("text")
    .attr("x", 195).attr("y", 13)
    .attr("text-anchor", "middle")
    .attr("font-size", 12)
    .attr("font-weight", "bold")
    .attr("textLength", 244)
    .attr("lengthAdjust", "spacingAndGlyphs")
    .style("white-space", "pre")
    .text(titleText)

  g.append("text")
    .attr("x", 320).attr("y", 27.5)
    .attr("text-anchor", "middle")
    .attr("font-size", 9.5)
    .text("De Bilt")
  g.append("text")
    .attr("x", 320).attr("y", 38.5)
    .attr("text-anchor", "middle")
    .attr("font-size", 9.5)
    .text(p.label)

  g.append("text")
    .attr("transform", "translate(15,86.5) rotate(-90)")
    .attr("text-anchor", "middle")
    .attr("font-size", 12)
    .attr("font-weight", "bold")
    .text(p.unit)

  g.append("text")
    .attr("x", 195).attr("y", 178.5)
    .attr("text-anchor", "middle")
    .attr("font-size", 11.5)
    .attr("font-weight", "bold")
    .text("Dag")

  g.append("text")
    .attr("x", 311).attr("y", 177.5)
    .attr("font-size", 7)
    .attr("font-weight", "bold")
    .attr("fill", "#1010ee")
    .attr("textLength", 60)
    .attr("lengthAdjust", "spacingAndGlyphs")
    .style("white-space", "pre")
    .text("Bron:  ECMWF/KNMI")

  // legenda
  const legend = [
    { name: "Control", color: controlColor, width: 1.5, dash: "5,3", y: 24.3 },
    { name: "Oper", color: operColor, width: p.operWidth, dash: null, y: 31 },
    { name: "Ens mn", color: meanColor, width: 2.5, dash: "2,2", y: 37.8 }
  ]
  const lg = g.selectAll("g.legend").data(legend).enter().append("g").attr("class", "legend")
  lg.append("line")
    .attr("x1", 34).attr("x2", 57)
    .attr("y1", d => d.y).attr("y2", d => d.y)
    .attr("stroke", d => d.color)
    .attr("stroke-width", d => d.width)
    .attr("stroke-dasharray", d => d.dash)
  lg.append("text")
    .attr("x", 79.5).attr("y", d => d.y + 2.4)
    .attr("text-anchor", "middle")
    .attr("font-size", 6.8)
    .text(d => d.name)
})

// scheidingslijnen
svg.append("line").attr("x1", 389.5).attr("x2", 389.5).attr("y1", 0).attr("y2", 554)
  .attr("stroke", "#2a2aff").attr("stroke-width", 1.3)
;[183.5, 368.5].forEach(yy => {
  svg.append("line").attr("x1", 0).attr("x2", 778).attr("y1", yy).attr("y2", yy)
    .attr("stroke", "#2a2aff").attr("stroke-width", 1.3)
})
svg.append("rect").attr("x", 1).attr("y", -2).attr("width", 776).attr("height", 554)
  .attr("fill", "none").attr("stroke", "#a8a8f8").attr("stroke-width", 2.5)
</script>
</body>
</html>
